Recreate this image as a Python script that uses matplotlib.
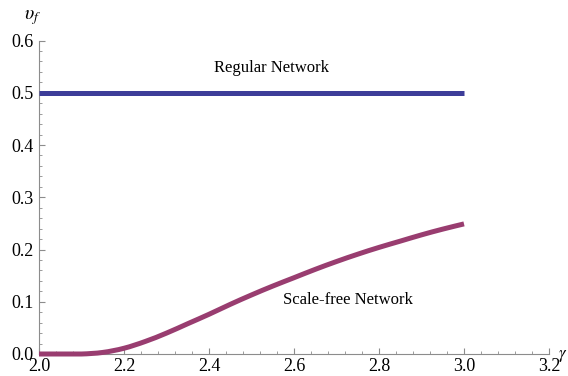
import matplotlib
matplotlib.use("Agg")
import matplotlib.pyplot as plt
from matplotlib.path import Path
from matplotlib.patches import PathPatch
from matplotlib.ticker import MultipleLocator, FormatStrFormatter

# Exponent gamma and fraction upsilon_f for each network type
gamma = [2.00, 2.05, 2.10, 2.15, 2.20, 2.25, 2.30, 2.35, 2.40, 2.45, 2.50,
         2.55, 2.60, 2.65, 2.70, 2.75, 2.80, 2.85, 2.90, 2.95, 3.00]
scale_free = [0.000, 0.000, 0.000, 0.003, 0.011, 0.024, 0.040, 0.058, 0.076,
              0.095, 0.113, 0.130, 0.146, 0.162, 0.177, 0.191, 0.204, 0.216,
              0.228, 0.239, 0.249]
regular_gamma = [2.0, 3.0]
regular = [0.5, 0.5]

x_ticks = [2.0, 2.2, 2.4, 2.6, 2.8, 3.0, 3.2]
y_ticks = [0.0, 0.1, 0.2, 0.3, 0.4, 0.5, 0.6]

plt.rcParams["font.family"] = ["Liberation Serif", "DejaVu Serif"]
plt.rcParams["mathtext.fontset"] = "stix"


def smooth_path(xs, ys):
    """Catmull-Rom spline through the points, as cubic Bezier segments."""
    pts = list(zip(xs, ys))
    verts = [pts[0]]
    codes = [Path.MOVETO]
    n = len(pts)
    for i in range(n - 1):
        p0 = pts[max(i - 1, 0)]
        p1 = pts[i]
        p2 = pts[i + 1]
        p3 = pts[min(i + 2, n - 1)]
        c1 = (p1[0] + (p2[0] - p0[0]) / 6, max(p1[1] + (p2[1] - p0[1]) / 6, 0))
        c2 = (p2[0] - (p3[0] - p1[0]) / 6, max(p2[1] - (p3[1] - p1[1]) / 6, 0))
        verts += [c1, c2, p2]
        codes += [Path.CURVE4] * 3
    return Path(verts, codes)


fig = plt.figure(figsize=(5.68, 3.76), dpi=100)
ax = fig.add_axes([39 / 568, 22 / 376, (549 - 39) / 568, (354 - 40.5) / 376])

blue = "#3d3d99"
purple = "#993d70"
ax.plot(regular_gamma, regular, color=blue, lw=3.6, solid_capstyle="butt",
        clip_on=False, zorder=3)
ax.add_patch(PathPatch(smooth_path(gamma, scale_free), facecolor="none",
                       edgecolor=purple, lw=3.6, capstyle="butt",
                       clip_on=False, zorder=3))

ax.set_xlim(2.0, 3.2)
ax.set_ylim(0.0, 0.6)
ax.set_xticks(x_ticks)
ax.set_yticks(y_ticks)
ax.xaxis.set_major_formatter(FormatStrFormatter("%.1f"))
ax.yaxis.set_major_formatter(FormatStrFormatter("%.1f"))
ax.xaxis.set_minor_locator(MultipleLocator(0.04))
ax.yaxis.set_minor_locator(MultipleLocator(0.02))

axis_gray = "#8c8c8c"
for side in ("top", "right"):
    ax.spines[side].set_visible(False)
for side in ("left", "bottom"):
    ax.spines[side].set_color(axis_gray)
    ax.spines[side].set_linewidth(0.8)

ax.tick_params(which="both", direction="in", color=axis_gray, labelsize=13,
               labelcolor="black")
ax.tick_params(which="major", length=4.5, width=0.8)
ax.tick_params(axis="x", which="major", pad=3)
ax.tick_params(axis="y", which="major", pad=4)
ax.tick_params(which="minor", length=2.5, width=0.6)

ax.text(2.548, 0.547, "Regular Network", ha="center", va="center", fontsize=12)
ax.text(2.727, 0.103, "Scale-free Network", ha="center", va="center", fontsize=12)

fig.text(33 / 568, 1 - 18 / 376, r"$\upsilon_f$", ha="center", va="center",
         fontsize=14)
fig.text(558 / 568, 1 - 356 / 376, r"$\gamma$", ha="left", va="center",
         fontsize=12)

fig.savefig("out.png", dpi=100)
